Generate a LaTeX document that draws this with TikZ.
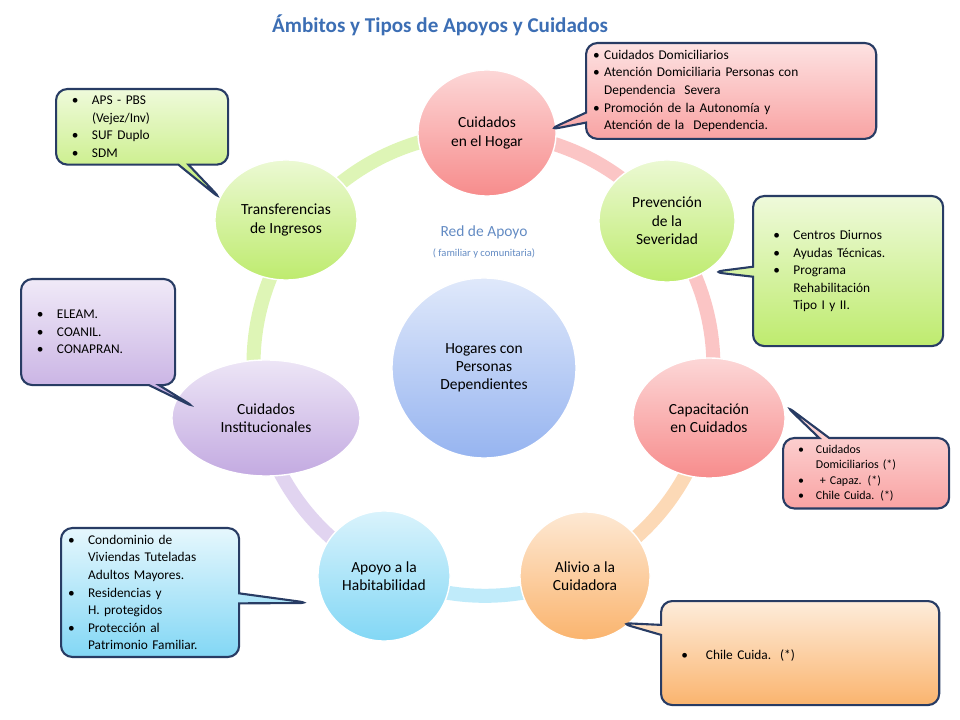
\documentclass[tikz,border=0pt]{standalone}
\usepackage{fontspec}
\setmainfont{Carlito}
\usetikzlibrary{shapes.geometric,shapes.callouts}
\definecolor{hogar}{RGB}{247,140,140}
\definecolor{verde}{RGB}{190,235,110}
\definecolor{naranja}{RGB}{250,180,110}
\definecolor{cian}{RGB}{130,215,245}
\definecolor{lila}{RGB}{195,170,225}
\definecolor{azul}{RGB}{150,180,240}
\definecolor{borde}{RGB}{40,60,100}
\definecolor{titulo}{RGB}{60,110,180}
\tikzset{
  ambito/.style={ellipse, draw=white, line width=1pt, align=center, font=\fontsize{11}{13}\selectfont, inner sep=0pt},
  nota/.style={rectangle callout, rounded corners=8pt, draw=borde, line width=1.5pt, align=left, font=\fontsize{9.5}{12.5}\selectfont, inner sep=5pt, anchor=north west},
  anillo/.style={line width=10pt, opacity=0.5}
}
\begin{document}
\begin{tikzpicture}[x=0.025cm,y=-0.025cm]
\useasboundingbox (0,0) rectangle (960,720);
\node[text=titulo, font=\fontsize{15}{17}\selectfont\bfseries] (tit) at (440,25) {Ámbitos y Tipos de Apoyos y Cuidados};
% anillo
\draw[anillo, hogar] (484,133) arc (-90:-52:230);
\draw[anillo, verde] (484,133) arc (-90:-140:230);
\draw[anillo, hogar] (625,185) arc (-52:10:230);
\draw[anillo, naranja] (710,405) arc (10:60:230);
\draw[anillo, cian] (600,565) arc (60:120:230);
\draw[anillo, lila] (369,565) arc (120:170:230);
\draw[anillo, verde] (257,404) arc (170:220:230);
% ambitos
\node[ambito, minimum width=137\pgflinewidth, shade, top color=hogar!35, bottom color=hogar, minimum width=3.45cm, minimum height=3.15cm] (hog) at (487,133) {Cuidados\\en el Hogar};
\node[ambito, shade, top color=verde!30, bottom color=verde, minimum width=3.4cm, minimum height=3.05cm] (prev) at (667,221) {Prevención\\de la\\Severidad};
\node[ambito, shade, top color=hogar!35, bottom color=hogar, minimum width=3.8cm, minimum height=3cm] (cap) at (709,418) {Capacitación\\en Cuidados};
\node[ambito, shade, top color=naranja!30, bottom color=naranja, minimum width=3.25cm, minimum height=3.2cm] (ali) at (585,576) {Alivio a la\\Cuidadora};
\node[ambito, shade, top color=cian!30, bottom color=cian, minimum width=3.3cm, minimum height=3.25cm] (hab) at (384,576) {Apoyo a la\\Habitabilidad};
\node[ambito, shade, top color=lila!30, bottom color=lila, minimum width=4.7cm, minimum height=2.9cm] (inst) at (266,418) {Cuidados\\Institucionales};
\node[ambito, shade, top color=verde!30, bottom color=verde, minimum width=3.55cm, minimum height=3cm] (trans) at (286,220) {Transferencias\\de Ingresos};
\node[ambito, shade, top color=azul!30, bottom color=azul, minimum width=4.6cm, minimum height=4.5cm] (hdep) at (484,368) {Hogares con\\Personas\\Dependientes};
\node[text=titulo!80, font=\fontsize{11}{13}\selectfont] (red) at (484,232) {Red de Apoyo};
\node[text=titulo!80, font=\fontsize{7.5}{9}\selectfont, below=0pt] (fam) at (red.south) {( familiar y comunitaria)};
% notas
\node[nota, shade, top color=hogar!25, bottom color=hogar!80, text width=6.9cm, callout absolute pointer={(548,130)}] (nhog) at (585,42)
 {\textbullet\ Cuidados Domiciliarios\\\textbullet\ Atención Domiciliaria Personas con\\\phantom{\textbullet\ }Dependencia\ \ Severa\\\textbullet\ Promoción de la Autonomía y\\\phantom{\textbullet\ }Atención de la\ \ Dependencia.};
\node[nota, shade, top color=verde!25, bottom color=verde, text width=3.95cm, callout absolute pointer={(222,200)}] (ntrans) at (55,88)
 {\ \ \textbullet\ \ \ APS - PBS\\\phantom{\ \ \textbullet\ \ \ }(Vejez/Inv)\\\ \ \textbullet\ \ \ SUF Duplo\\\ \ \textbullet\ \ \ SDM};
\node[nota, shade, top color=verde!25, bottom color=verde, text width=4.4cm, minimum height=3.75cm, callout absolute pointer={(712,272)}] (nprev) at (752,195)
 {\ \ \ \textbullet\ \ \ Centros Diurnos\\\ \ \ \textbullet\ \ \ Ayudas Técnicas.\\\ \ \ \textbullet\ \ \ Programa\\\phantom{\ \ \ \textbullet\ \ \ }Rehabilitación\\\phantom{\ \ \ \textbullet\ \ \ }Tipo I y II.};
\node[nota, shade, top color=lila!25, bottom color=lila, text width=3.5cm, minimum height=2.65cm, callout absolute pointer={(196,408)}] (ninst) at (20,278)
 {\ \ \textbullet\ \ \ ELEAM.\\\ \ \textbullet\ \ \ COANIL.\\\ \ \textbullet\ \ \ CONAPRAN.};
\node[nota, shade, top color=hogar!25, bottom color=hogar!80, text width=3.8cm, font=\fontsize{8.5}{11}\selectfont, callout absolute pointer={(785,405)}] (ncap) at (782,437)
 {\ \ \textbullet\ \ \ Cuidados\\\phantom{\ \ \textbullet\ \ \ }Domiciliarios (*)\\\ \ \textbullet\ \ \ \ +\ Capaz. (*)\\\ \ \textbullet\ \ \ Chile Cuida. (*)};
\node[nota, shade, top color=cian!20, bottom color=cian, text width=4.1cm, callout absolute pointer={(310,603)}] (nhab) at (60,527)
 {\textbullet\ \ \ Condominio de\\\phantom{\textbullet\ \ \ }Viviendas Tuteladas\\\phantom{\textbullet\ \ \ }Adultos Mayores.\\\textbullet\ \ \ Residencias\ y\\\phantom{\textbullet\ \ \ }H. protegidos\\\textbullet\ \ \ Protección al\\\phantom{\textbullet\ \ \ }Patrimonio Familiar.};
\node[nota, shade, top color=naranja!25, bottom color=naranja, text width=6.6cm, minimum height=2.6cm, callout absolute pointer={(620,623)}] (nali) at (660,600)
 {\\[-2pt]\ \ \ \textbullet\ \ \ \ Chile Cuida.\ \ (*)};
\end{tikzpicture}
\end{document}
